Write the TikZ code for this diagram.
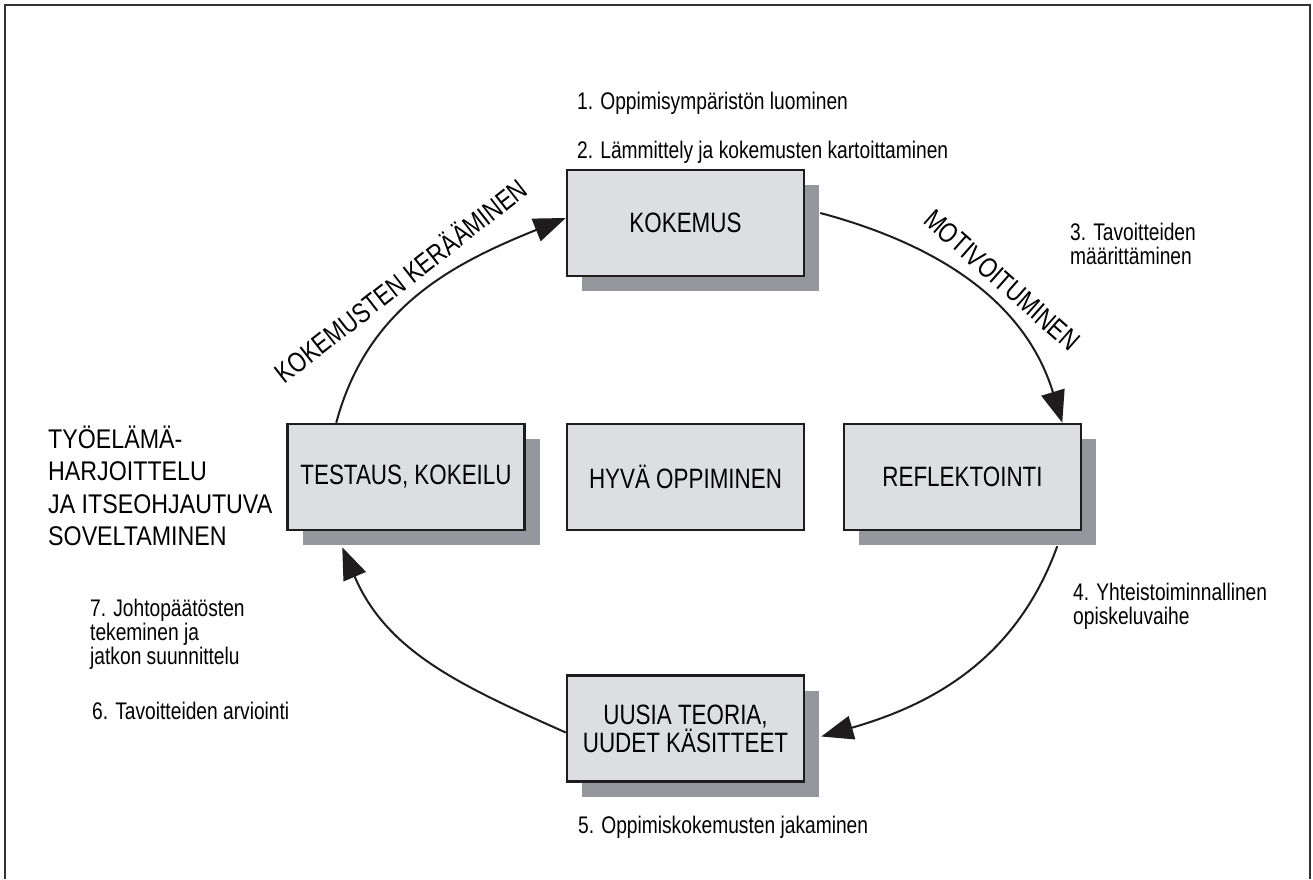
\documentclass[tikz,border=0pt]{standalone}
\usepackage{fontspec}
\setmainfont{Liberation Sans}[FakeStretch=0.8]
\newfontfamily\sidefont{Liberation Sans}[FakeStretch=0.86]
\usepackage{tikz}
\usetikzlibrary{shapes,arrows.meta}
\usetikzlibrary{shadows,positioning}
\definecolor{boxgray}{RGB}{221,222,225}
\definecolor{shadowgray}{RGB}{150,151,156}
\definecolor{inkblack}{RGB}{30,28,29}
\tikzstyle{block} = [rectangle, draw=inkblack, line width=2.5pt, fill=boxgray, 
minimum width=237pt, minimum height=106pt, text centered, align=center, font=\fontsize{28}{28}\selectfont]
\tikzstyle{sblock} = [block, drop shadow={shadow xshift=15pt, shadow yshift=-15pt, fill=shadowgray, opacity=1}]
\tikzstyle{line} = [draw=inkblack, line width=2pt, -{Triangle[length=32pt,width=24pt]}]
\tikzstyle{note} = [anchor=west, align=left, inner sep=0pt, font=\fontsize{24}{24}\selectfont]
\tikzstyle{phase} = [inner sep=0pt, font=\fontsize{28}{28}\selectfont]

\begin{document}
\begin{tikzpicture}[x=1pt, y=1pt, node distance=2cm, auto]
	\useasboundingbox (0,0) rectangle (1313,879);
	\draw [line width=2pt, black!80] (5,0) -- (5,874) -- (1310,874) -- (1310,0);
	
	\node [block] (c) at (685.5,402) {HYVÄ OPPIMINEN};
	\node [sblock, above of=c, node distance=254pt] (k) {KOKEMUS};
	\node [sblock, below of=c, node distance=251.5pt] (u) {UUSIA TEORIA,\\UUDET KÄSITTEET};
	\node [sblock, left of=c, node distance=279.5pt] (t) {TESTAUS, KOKEILU};
	\node [sblock, right of=c, node distance=277pt] (r) {REFLEKTOINTI};
	
	% Draw edges
	\path [line] ([xshift=50pt]t.north west) to[out=75, in=202] ([yshift=5pt]k.west);
	\path [line] ([xshift=15pt,yshift=10pt]k.east) to[out=-15, in=107] ([xshift=-20pt]r.north east);
	\path [line] ([xshift=-25pt,yshift=-15pt]r.south east) to[out=-110, in=16] ([xshift=16pt,yshift=-8pt]u.east);
	\path [line] ([yshift=-4pt]u.west) to[out=156, in=-67] ([xshift=56pt,yshift=-16pt]t.south west);
	
	\node [phase, rotate=38] (kl) at (400,599) {KOKEMUSTEN KERÄÄMINEN};
	\node [phase, rotate=-41.5] (ml) at (1002,599) {MOTIVOITUMINEN};
	
	\node [note] (s1) at (577,776) {1. Oppimisympäristön luominen};
	\node [note] (s2) at (577,727) {2. Lämmittely ja kokemusten kartoittaminen};
	\node [note] (s3) at (1070,635) {3. Tavoitteiden\\määrittäminen};
	\node [note] (s4) at (1073,273) {4. Yhteistoiminnallinen\\opiskeluvaihe};
	\node [note] (s5) at (578,52) {5. Oppimiskokemusten jakaminen};
	\node [note] (s6) at (92,168) {6. Tavoitteiden arviointi};
	\node [note] (s7) at (90,245) {7. Johtopäätösten\\tekeminen ja\\jatkon suunnittelu};
	\node [note, font=\sidefont\fontsize{27}{32.5}\selectfont] (tyo) at (48,393) {TYÖELÄMÄ-\\HARJOITTELU\\JA ITSEOHJAUTUVA\\SOVELTAMINEN};
	
\end{tikzpicture}
\end{document}
